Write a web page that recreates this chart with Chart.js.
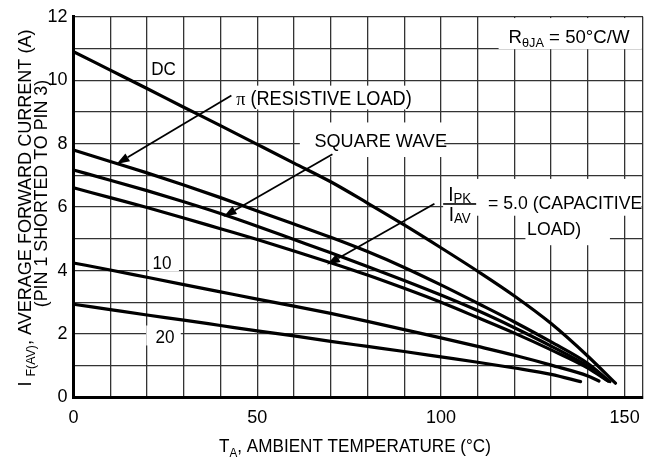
<!DOCTYPE html>
<html>
<head>
<meta charset="utf-8">
<script src="https://cdn.jsdelivr.net/npm/chart.js@4.4.1/dist/chart.umd.min.js"></script>
<style>
  html, body { margin: 0; padding: 0; background: #fff; }
  #chart { display: block; }
</style>
</head>
<body>
<canvas id="chart" width="653" height="462"></canvas>
<script>
// Данные кривых (температура, °C -> ток, A)
const tempDC = [0, 10, 20, 30, 40, 50, 60, 70, 80, 90, 100, 110, 120, 130, 140, 147.5];
const currentDC = [10.9, 10.32, 9.74, 9.15, 8.57, 7.98, 7.39, 6.8, 6.13, 5.44, 4.72, 3.98, 3.2, 2.33, 1.3, 0.45];

const tempPi = [0, 10, 20, 30, 40, 50, 60, 70, 80, 90, 100, 110, 120, 130, 140, 146];
const currentPi = [7.8, 7.44, 7.08, 6.7, 6.3, 5.88, 5.47, 5.05, 4.6, 4.1, 3.55, 2.97, 2.38, 1.75, 1.07, 0.5];

const tempSquare = [0, 10, 20, 30, 40, 50, 60, 70, 80, 90, 100, 110, 120, 130, 140, 145.5];
const currentSquare = [7.17, 6.85, 6.52, 6.17, 5.8, 5.4, 4.98, 4.56, 4.13, 3.69, 3.23, 2.74, 2.2, 1.62, 0.98, 0.52];

const tempCap5 = [0, 10, 20, 30, 40, 50, 60, 70, 80, 90, 100, 110, 120, 130, 140, 145.5];
const currentCap5 = [6.61, 6.3, 5.99, 5.66, 5.32, 4.98, 4.62, 4.25, 3.86, 3.44, 3.0, 2.52, 2.03, 1.5, 0.93, 0.52];

const tempCap10 = [0, 10, 20, 30, 40, 50, 60, 70, 80, 90, 100, 110, 120, 130, 140, 143];
const currentCap10 = [4.24, 4.02, 3.79, 3.56, 3.33, 3.1, 2.88, 2.65, 2.4, 2.14, 1.88, 1.61, 1.33, 1.02, 0.68, 0.52];

const tempCap20 = [0, 10, 20, 30, 40, 50, 60, 70, 80, 90, 100, 110, 120, 130, 138];
const currentCap20 = [2.94, 2.77, 2.6, 2.44, 2.27, 2.1, 1.94, 1.77, 1.61, 1.45, 1.28, 1.11, 0.93, 0.73, 0.5];

// Деления осей
const xGridTicks = [0, 10, 20, 30, 40, 50, 60, 70, 80, 90, 100, 110, 120, 130, 140, 150, 155];
const xTickLabels = [0, 50, 100, 150];
const yGridTicks = [0, 1, 2, 3, 4, 5, 6, 7, 8, 9, 10, 11, 12];
const yTickLabels = [0, 2, 4, 6, 8, 10, 12];

const FONT = "'Liberation Sans', Arial, sans-serif";
const SERIF = "'Liberation Serif', 'DejaVu Serif', serif";

function toPoints(xs, ys) {
    return xs.map((x, i) => ({ x: x, y: ys[i] }));
}

function curve(xs, ys) {
    return {
        data: toPoints(xs, ys),
        borderColor: '#000',
        borderWidth: 3.2,
        pointRadius: 0,
        showLine: true,
        fill: false,
        cubicInterpolationMode: 'monotone',
        borderCapStyle: 'round'
    };
}

// Рисует строку из кусков: [текст, вид], вид: '' | 'sub' | 'serif'
// o: { size, align, sx (сжатие по горизонтали), subDy (сдвиг индекса вниз) }
function drawRich(ctx, x, y, parts, o) {
    const size = o.size, sx = o.sx || 0.9;
    const subDy = o.subDy !== undefined ? o.subDy : size * 0.24;
    const fontFor = k => {
        if (k === 'sub') return Math.round(size * 0.7) + 'px ' + FONT;
        if (k === 'serif') return size + 'px ' + SERIF;
        return size + 'px ' + FONT;
    };
    let total = 0;
    parts.forEach(p => { ctx.font = fontFor(p[1]); total += ctx.measureText(p[0]).width; });
    let cx = o.align === 'center' ? -total / 2 : (o.align === 'right' ? -total : 0);
    ctx.save();
    ctx.translate(x, y);
    ctx.scale(sx, 1);
    ctx.textAlign = 'left';
    ctx.textBaseline = 'alphabetic';
    parts.forEach(p => {
        ctx.font = fontFor(p[1]);
        ctx.fillText(p[0], cx, p[1] === 'sub' ? subDy : 0);
        cx += ctx.measureText(p[0]).width;
    });
    ctx.restore();
}

function drawArrow(ctx, x1, y1, x2, y2) {
    const ang = Math.atan2(y2 - y1, x2 - x1);
    const len = 13, half = 4.5;
    const bx = x2 - len * Math.cos(ang), by = y2 - len * Math.sin(ang);
    ctx.strokeStyle = '#000';
    ctx.lineWidth = 1.8;
    ctx.beginPath();
    ctx.moveTo(x1, y1);
    ctx.lineTo(bx, by);
    ctx.stroke();
    ctx.fillStyle = '#000';
    ctx.beginPath();
    ctx.moveTo(x2, y2);
    ctx.lineTo(bx + half * Math.sin(ang), by - half * Math.cos(ang));
    ctx.lineTo(bx - half * Math.sin(ang), by + half * Math.cos(ang));
    ctx.closePath();
    ctx.fill();
}

// Белые подложки под подписями (в единицах осей)
const labelBoxes = [
    [42.7, 9.83, 92.0, 9.08],   // π (RESISTIVE LOAD)
    [61.6, 8.67, 100.9, 7.58],  // SQUARE WAVE
    [100.6, 6.89, 154.6, 5.73], // IPK/IAV = 5.0 (CAPACITIVE
    [123, 5.8, 146, 4.8],       // LOAD)
    [20.6, 4.61, 28.7, 3.98],   // 10
    [19.8, 2.27, 29.2, 1.64],   // 20
    [115.7, 11.96, 154.7, 10.98] // R θJA
];

const boxesPlugin = {
    id: 'boxes',
    beforeDatasetsDraw(chart) {
        const { ctx, scales: { x, y } } = chart;
        ctx.save();
        ctx.fillStyle = '#fff';
        labelBoxes.forEach(b => {
            const l = x.getPixelForValue(b[0]), t = y.getPixelForValue(b[1]);
            const r = x.getPixelForValue(b[2]), btm = y.getPixelForValue(b[3]);
            ctx.fillRect(l, t, r - l, btm - t);
        });
        ctx.restore();
    }
};

const annotationsPlugin = {
    id: 'annotations',
    afterDatasetsDraw(chart) {
        const { ctx, scales: { x, y } } = chart;
        const X = v => x.getPixelForValue(v), Y = v => y.getPixelForValue(v);
        ctx.save();
        ctx.fillStyle = '#000';

        // подписи кривых
        drawRich(ctx, X(24.5), Y(10.39) + 7, [['DC', '']], { size: 19, align: 'center' });
        drawRich(ctx, X(44.3), Y(9.44) + 7, [['π', 'serif'], [' (RESISTIVE LOAD)', '']], { size: 19.5, align: 'left', sx: 0.93 });
        drawRich(ctx, X(65.6), Y(8.11) + 7, [['SQUARE WAVE', '']], { size: 19, align: 'left', sx: 0.95 });
        drawRich(ctx, X(24.1), Y(4.28) + 7, [['10', '']], { size: 19, align: 'center' });
        drawRich(ctx, X(24.9), Y(1.94) + 7, [['20', '']], { size: 19, align: 'center' });

        // дробь IPK / IAV
        const fx = X(105.1), fy = Y(6.10);
        drawRich(ctx, fx, fy - 2.5, [['I', ''], ['PK', 'sub']], { size: 20, align: 'center', subDy: 1.5, sx: 0.95 });
        drawRich(ctx, fx, fy + 17.5, [['I', ''], ['AV', 'sub']], { size: 20, align: 'center', subDy: 2, sx: 0.95 });
        ctx.fillRect(fx - 16.5, fy - 0.8, 33, 1.6);
        drawRich(ctx, X(112.8), Y(6.16) + 7, [['= 5.0 (CAPACITIVE', '']], { size: 19, align: 'left', sx: 0.93 });
        drawRich(ctx, X(130.8), Y(5.33) + 7, [['LOAD)', '']], { size: 19, align: 'center', sx: 0.93 });

        // R θJA
        drawRich(ctx, X(118.4), Y(11.39) + 6.5, [['R', ''], ['θJA', 'sub'], [' = 50°C/W', '']], { size: 19, align: 'left', sx: 0.98, subDy: 4 });

        // стрелки
        drawArrow(ctx, X(42.97), Y(9.52), X(11.72), Y(7.36));
        drawArrow(ctx, X(70.47), Y(7.67), X(40.83), Y(5.70));
        drawArrow(ctx, X(98.23), Y(6.11), X(68.99), Y(4.19));
        ctx.restore();
    },
    afterDraw(chart) {
        const { ctx } = chart;
        ctx.save();
        ctx.fillStyle = '#000';
        // подпись оси X
        drawRich(ctx, 355, 452, [['T', ''], ['A', 'sub'], [', AMBIENT TEMPERATURE (°C)', '']], { size: 19, align: 'center', subDy: 5 });
        // подпись оси Y, две строки
        ctx.translate(30.5, 208);
        ctx.rotate(-Math.PI / 2);
        drawRich(ctx, 0, 0, [['I ', ''], ['F(AV)', 'sub'], [', AVERAGE FORWARD CURRENT (A)', '']], { size: 19, align: 'center', sx: 0.95, subDy: 4 });
        drawRich(ctx, 14.5, 16, [['(PIN 1 SHORTED TO PIN 3)', '']], { size: 17.5, align: 'center', sx: 1.02 });
        ctx.restore();
    }
};

const ctx = document.getElementById('chart');
new Chart(ctx, {
    type: 'scatter',
    data: {
        datasets: [
            curve(tempDC, currentDC),
            curve(tempPi, currentPi),
            curve(tempSquare, currentSquare),
            curve(tempCap5, currentCap5),
            curve(tempCap10, currentCap10),
            curve(tempCap20, currentCap20)
        ]
    },
    options: {
        responsive: false,
        animation: false,
        devicePixelRatio: 1,
        layout: { padding: { left: 0, right: 4.4, top: 13.5, bottom: 0 } },
        plugins: {
            legend: { display: false },
            tooltip: { enabled: false }
        },
        scales: {
            x: {
                type: 'linear',
                min: 0,
                max: 155,
                afterBuildTicks: s => { s.ticks = xGridTicks.map(v => ({ value: v })); },
                afterFit: s => { s.height = 64.5; },
                ticks: {
                    autoSkip: false,
                    maxRotation: 0,
                    padding: 10,
                    color: '#000',
                    font: { family: FONT, size: 18 },
                    callback: v => xTickLabels.includes(v) ? String(v) : ''
                },
                grid: { color: '#333', lineWidth: 1.3, drawTicks: false },
                border: { color: '#000', width: 3 }
            },
            y: {
                type: 'linear',
                min: 0,
                max: 12,
                afterBuildTicks: s => { s.ticks = yGridTicks.map(v => ({ value: v })); },
                afterFit: s => { s.width = 73.5; },
                ticks: {
                    autoSkip: false,
                    padding: 6,
                    color: '#000',
                    font: { family: FONT, size: 18 },
                    callback: v => yTickLabels.includes(v) ? String(v) : ''
                },
                grid: { color: '#333', lineWidth: 1.3, drawTicks: false },
                border: { color: '#000', width: 3 }
            }
        }
    },
    plugins: [boxesPlugin, annotationsPlugin]
});
</script>
</body>
</html>
